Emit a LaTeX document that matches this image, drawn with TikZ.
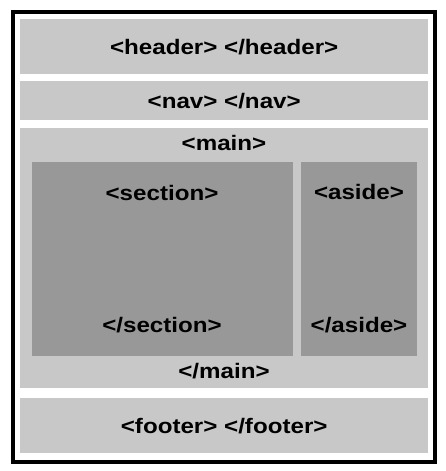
\documentclass[tikz,border=0pt]{standalone}
\usepackage{fontspec}
\setmainfont{Liberation Sans}[FakeStretch=1.15]
\usepackage{tikz}
\usetikzlibrary{positioning}
\definecolor{boxgray}{RGB}{200, 200, 200}
\definecolor{innergray}{RGB}{152, 152, 152}

\begin{document}
\begin{tikzpicture}[x=1pt, y=-1pt,
    block/.style={fill=boxgray, anchor=north west, inner sep=0pt, font=\bfseries\fontsize{21}{25}\selectfont},
    inner block/.style={block, fill=innergray},
    tag/.style={inner sep=0pt, font=\bfseries\fontsize{21}{25}\selectfont}]
  \useasboundingbox (0,0) rectangle (446,471);
  \fill[white] (12,12) rectangle (435,461);
  \draw[line width=4pt] (12.5,12) rectangle (435,461.5);

  \node[block, minimum width=408pt, minimum height=55pt] (header) at (20,19) {<header> </header>};
  \node[block, minimum width=408pt, minimum height=39pt] (nav) at (20,81) {<nav> </nav>};
  \node[block, minimum width=408pt, minimum height=260pt] (main) at (20,128) {};
  \node[inner block, minimum width=261pt, minimum height=194pt] (section) at (32,162) {};
  \node[inner block, minimum width=116pt, minimum height=194pt] (aside) at (301,162) {};
  \node[block, minimum width=408pt, minimum height=55pt] (footer) at (20,398) {<footer> </footer>};

  % opening and closing tags
  \node[tag] (main open) at (224,143) {<main>};
  \node[tag] (main close) at (224,371) {</main>};
  \node[tag] (section open) at (162,193) {<section>};
  \node[tag] (section close) at (162,325) {</section>};
  \node[tag] (aside open) at (359,192) {<aside>};
  \node[tag] (aside close) at (359,325) {</aside>};
\end{tikzpicture}
\end{document}
